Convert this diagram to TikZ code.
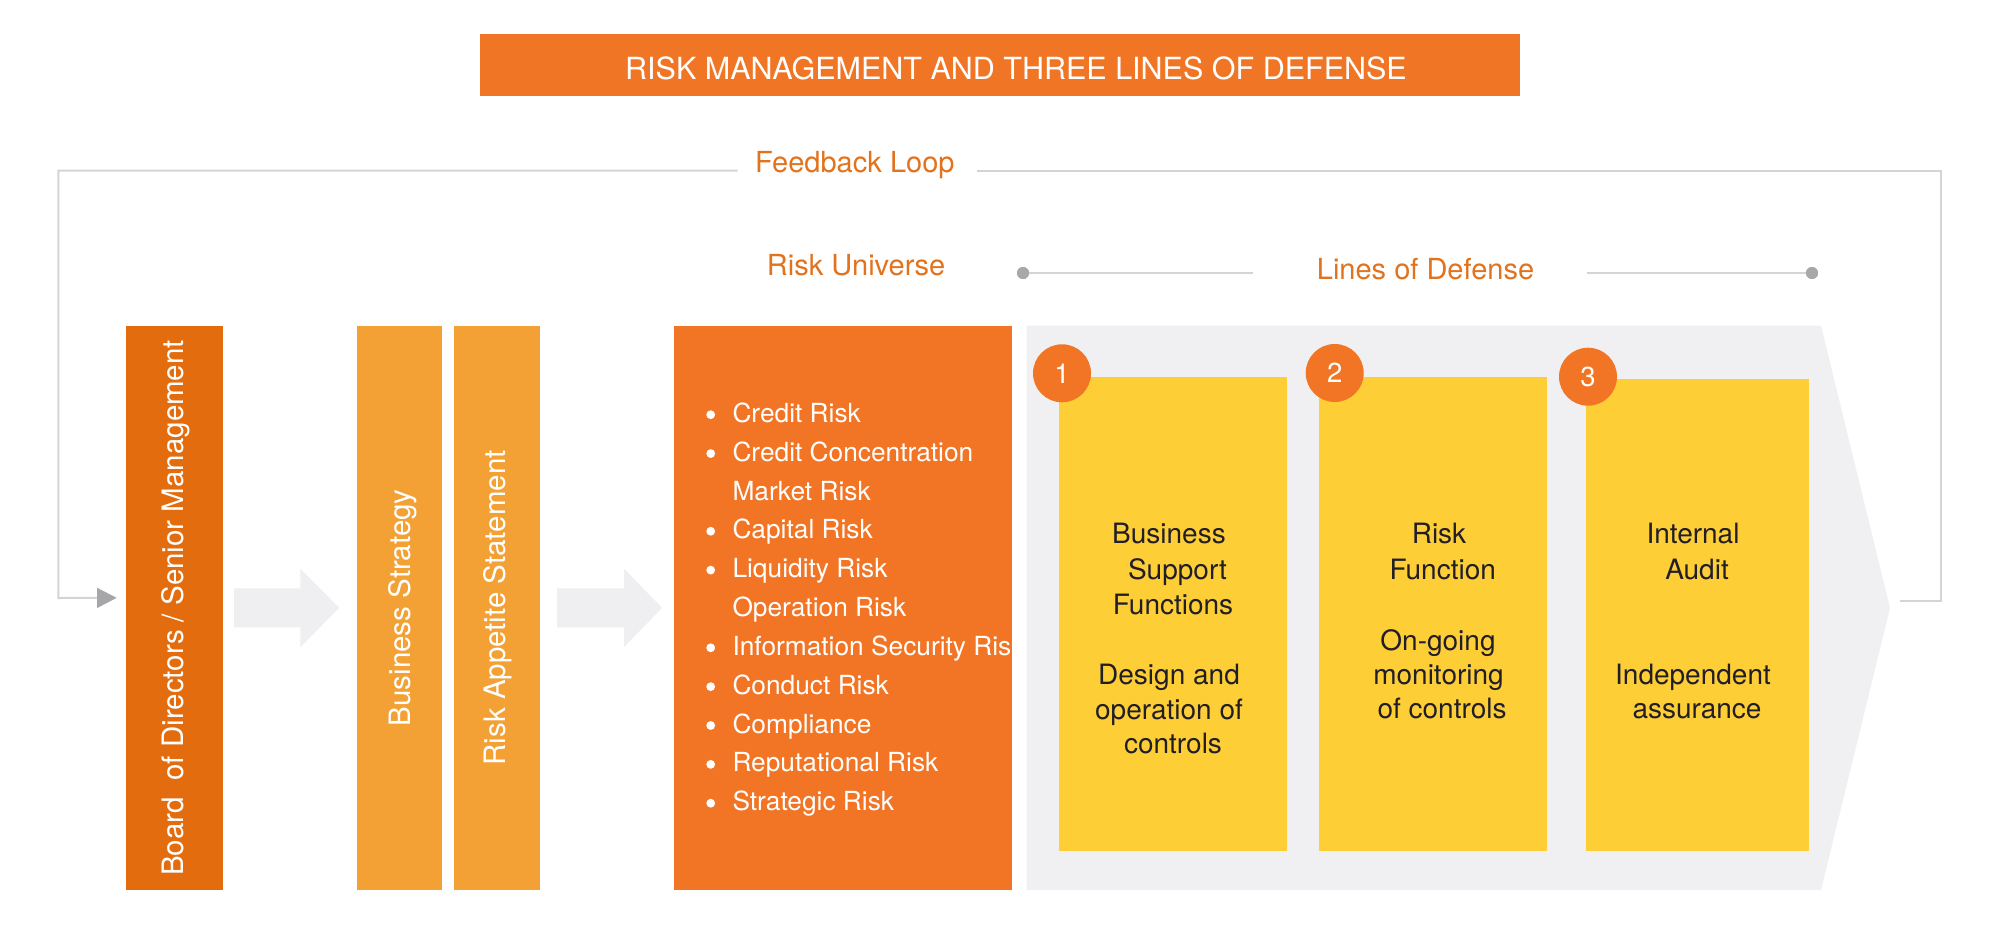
\documentclass[tikz,border=0pt]{standalone}
\usepackage{fontspec}
\setmainfont{TeX Gyre Heros}
\usetikzlibrary{arrows.meta,calc}
\newcommand\fsz[1]{\fontsize{#1}{#1}\selectfont}
\definecolor{titleor}{RGB}{240,118,38}
\definecolor{riskor}{RGB}{241,117,36}
\definecolor{boardor}{RGB}{227,109,14}
\definecolor{lightor}{RGB}{243,161,53}
\definecolor{yel}{RGB}{254,206,54}
\definecolor{grayarea}{RGB}{240,240,242}
\definecolor{arrowfill}{RGB}{239,239,241}
\definecolor{labelor}{RGB}{226,115,30}
\definecolor{linegray}{RGB}{212,212,214}
\definecolor{dotgray}{RGB}{168,168,170}
\definecolor{tipgray}{RGB}{166,166,168}
\definecolor{darktext}{RGB}{33,30,40}
\begin{document}
\begin{tikzpicture}[x=1pt,y=-1pt,
  rect/.style={draw=none,inner sep=0pt,outer sep=0pt,anchor=north west},
  vtext/.style={rotate=90,text=white,font=\fsz{29.5},inner sep=0pt},
  orlabel/.style={text=labelor,font=\fsz{29},anchor=base west,inner sep=0pt},
  listtext/.style={text=white,font=\fsz{26.3},anchor=base west,inner sep=0pt},
  ytext/.style={text=darktext,font=\fsz{28},anchor=base,inner sep=0pt},
  numcirc/.style={circle,fill=riskor,minimum size=58pt,inner sep=0pt,text=white,font=\fsz{27.5}},
  bigarrow/.style={fill=arrowfill},
  fbline/.style={draw=linegray,line width=2pt},
  ldline/.style={draw=linegray,line width=2pt},
  lddot/.style={circle,fill=dotgray,minimum size=12pt,inner sep=0pt}]
\useasboundingbox[fill=white] (0,0) rectangle (2000,942);

% title
\node[rect,fill=titleor,minimum width=1040pt,minimum height=61.7pt] (title) at (480,34) {};
\node[text=white,font=\fsz{30.5},anchor=base,inner sep=0pt] (titletext) at (1016,80) {RISK MANAGEMENT AND THREE LINES OF DEFENSE};

% labels
\node[orlabel] (fbtext) at (755,172.7) {Feedback Loop};
\node[orlabel] (rutext) at (766.7,275) {Risk Universe};
\node[orlabel] (lodtext) at (1316.7,279) {Lines of Defense};

% left boxes
\node[rect,fill=boardor,minimum width=97.6pt,minimum height=564.3pt] (board) at (125.7,325.7) {};
\node[vtext] at ($(board.center)+(1,0)$) {Board\ \ of Directors / Senior Management};
\node[rect,fill=lightor,minimum width=85.6pt,minimum height=564.3pt] (bs) at (356.7,325.7) {};
\node[vtext] at ($(bs.center)+(3,0)$) {Business Strategy};
\node[rect,fill=lightor,minimum width=85.7pt,minimum height=564.3pt] (ras) at (454.3,325.7) {};
\node[vtext] at ($(ras.center)+(1,0)$) {Risk Appetite Statement};

% risk universe box
\node[rect,fill=riskor,minimum width=338.3pt,minimum height=564.3pt] (risk) at (674,325.7) {};
\begin{scope}
\clip (risk.north west) rectangle (risk.south east);
\foreach \t/\b [count=\i from 0] in {Credit Risk/1,Credit Concentration/1,Market Risk/0,Capital Risk/1,Liquidity Risk/1,Operation Risk/0,Information Security Risk/1,Conduct Risk/1,Compliance/1,Reputational Risk/1,Strategic Risk/1}{
  \node[listtext] at (732.3,{422.3+38.85*\i}) {\t};
  \ifnum\b=1 \fill[white] (710.7,{414.7+38.85*\i}) circle (4.4pt);\fi
}
\end{scope}

% block arrows
\fill[bigarrow] ($(board.east)+(10.7,-19.5)$) -- ($(bs.west)+(-56.4,-19.5)$) -- ($(bs.west)+(-56.4,-39.2)$) -- ($(bs.west)+(-17.4,0)$) -- ($(bs.west)+(-56.4,39.2)$) -- ($(bs.west)+(-56.4,19.5)$) -- ($(board.east)+(10.7,19.5)$) -- cycle;
\fill[bigarrow] ($(ras.east)+(17,-19.5)$) -- ($(risk.west)+(-50,-19.5)$) -- ($(risk.west)+(-50,-39.2)$) -- ($(risk.west)+(-12,0)$) -- ($(risk.west)+(-50,39.2)$) -- ($(risk.west)+(-50,19.5)$) -- ($(ras.east)+(17,19.5)$) -- cycle;

% lines of defense area
\coordinate (tip) at (1890,608);
\fill[grayarea] (1026.7,325.7) -- (1821,325.7) -- (tip) -- (1821,890) -- (1026.7,890) -- cycle;
\node[rect,fill=yel,minimum width=228pt,minimum height=473.7pt] (y1) at (1059.3,377.3) {};
\node[rect,fill=yel,minimum width=228pt,minimum height=474pt] (y2) at (1319.3,377) {};
\node[rect,fill=yel,minimum width=223pt,minimum height=472pt] (y3) at (1586,379) {};
\node[numcirc] (c1) at (1062,373.3) {1};
\node[numcirc] (c2) at (1334.7,373) {2};
\node[numcirc] (c3) at (1588,376.7) {3};

\node[ytext] at (1169,543.3) {Business};
\node[ytext] at (1177.5,579) {Support};
\node[ytext] at (1173,614) {Functions};
\node[ytext] at (1169,684) {Design and};
\node[ytext] at (1169,719.3) {operation of};
\node[ytext] at (1173,753.3) {controls};

\node[ytext] at (1439,543.3) {Risk};
\node[ytext] at (1442.7,579) {Function};
\node[ytext] at (1438,650.7) {On-going};
\node[ytext] at (1438.5,684.5) {monitoring};
\node[ytext] at (1442,718.3) {of controls};

\node[ytext] at (1693,543.3) {Internal};
\node[ytext] at (1697,579) {Audit};
\node[ytext] at (1693,684.3) {Independent};
\node[ytext] at (1697,718.3) {assurance};

% lines of defense connector
\node[lddot] (dl) at (1023,273) {};
\node[lddot] (dr) at (1812,273) {};
\coordinate (ldl) at (1253,273);
\coordinate (ldr) at (1587,273);
\draw[ldline] (dl.center) -- (ldl);
\draw[ldline] (ldr) -- (dr.center);
\node[lddot] at (dl) {};
\node[lddot] at (dr) {};

% feedback loop
\coordinate (fbR) at ($(tip)+(10,-7)$);
\coordinate (fbgapR) at (977,170.7);
\coordinate (fbgapL) at (737.7,170.7);
\draw[fbline] (fbR) -- (1941,601) -- (1941,170.7) -- (fbgapR);
\draw[fbline,-{Triangle[length=19.5pt,width=19.7pt,color=tipgray]}] (fbgapL) -- (58.3,170.7) -- (58.3,598) -- ($(board.west)+(-9,-10)$);
\end{tikzpicture}
\end{document}
